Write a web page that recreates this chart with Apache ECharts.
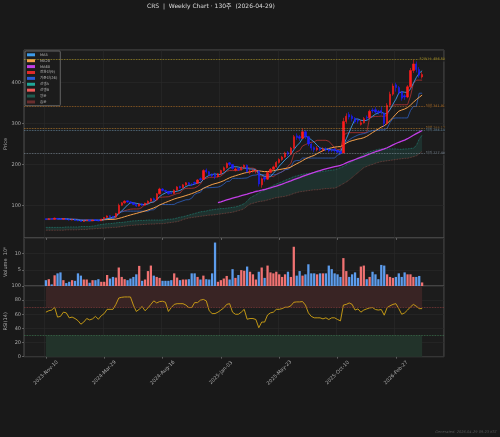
<!DOCTYPE html>
<html><head><meta charset="utf-8">
<script src="https://cdn.jsdelivr.net/npm/echarts@6/dist/echarts.min.js"></script>
<style>html,body{margin:0;padding:0;background:#191919;}#c{width:500px;height:437px;}</style>
</head><body><div id="c"></div>
<script>
// ---------- data ----------
const opens = [
67,65,67.5,66,68,67,66,67,65.5,64,
65,63.5,62.5,60.5,62.5,64,62,64.5,63.5,62,
66,70,74.5,73,71,80,100,106,111,108.5,
106,102,98,103.5,100,105,110,116,113,128,
140,136,134,131,129,137,146,143,150,155,
152,156,154,165,163,186,182,176,174,170,
177,185,192,204,200,186,190,187,193,198,
180,184,183,184,150,168,164,180,188,194,
205,212,218,229,225,240,270,268,264,280,
268,250,241,236,240,236,239,237,236,237,
234,231,228,305,322,318,313,308,298,302,
316,314,333,334,330,332,326,300,345,372,
395,388,377,368,365,390,430,446,432,414];
const closes = [
65,67,66,68.5,66.5,66,67.5,65,64,65,
63,62,60.5,62.5,64,62,64,63,62,66,
70,74,72.5,71,80,100,106,110,108,106,
102,98,103,100,105,110,116,113,128,140,
136,134,128,129,137,145,143,150,155,151,
150,154,162,163,185,182,175,172,170,177,
185,192,202,200,190,189,187,193,198,182,
184,186,185,152,165,164,180,188,194,205,
212,218,228,225,240,268,266,264,280,268,
250,240,236,240,236,238,236,233,235,234,
230,227,305,318,316,312,304,306,302,312,
314,330,331,328,327,328,300,345,372,392,
388,376,362,365,390,430,446,432,418,420];
const lows = [
64,64,65,65,65,64.5,65,64,62.5,63,
62,61,59.5,59.5,61.5,61,61.5,62,61,61.5,
65.5,69,71,70,70.5,78,98,104,106,104,
100.5,96,97,98,99,104,109,111,112,127,
134,131,126,127,128,136,141,142,148,149,
147,150,153,160,162,178,172,169,164,168,
175,183,190,196,187,183,184,185,191,180,
176,180,178,146,143,158,162,178,186,192,
202,209,216,220,223,238,260,258,262,262,
245,234,230,232,232,231,232,229,230,229,
228,227.5,227.5,300,310,305,300,300,295,300,
308,312,326,324,322,322,292,298,340,368,
378,370,356,358,362,386,424,425,412,410];
const highs = [
68,69,69,70,69,68,69,68,66,66.5,
65.5,64,63,63.5,65,64.5,65,65.5,64,67,
71,75.5,75.5,74,81.5,104,108,112,112,110,
107,103,104.5,105,106.5,112,118,119,130,143,
142,138,135,133,139,147,148,152,157,157,
154,158,164,168,188,190,184,178,180,179,
187,195,205,206,201,193,192,195,200,200,
188,189,188,186,168,170,183,191,197,208,
215,221,231,233,243,272,276,272,288.17,284,
270,252,244,245,242,242,242,239,239,240,
236,233,314,325,328,322,316,312,308,316,
320,334,338,340,333,341.91,328,350,378,398,
400,392,380,372,394,436,456.5,452,438,426];
const volumes = [
1.8,2.1,0.5,3.3,3.9,4.2,1.8,0.9,1.3,1.8,
1.6,3.9,3.2,2.0,2.0,1.0,1.8,1.8,2.1,1.3,
1.3,3.4,2.3,2.8,2.6,5.7,2.8,2.1,1.8,2.3,
2.8,3.6,6.2,1.6,2.0,4.6,6.3,3.2,2.8,2.5,
1.6,1.6,1.6,1.8,3.9,2.6,1.8,2.0,2.0,2.1,
3.9,3.9,2.8,2.0,3.2,2.1,2.0,3.9,13.4,1.3,
1.8,2.3,3.1,2.0,5.2,2.5,3.4,4.9,4.7,6.0,
4.4,3.6,2.0,4.4,5.7,2.5,6.3,4.2,3.9,4.4,
3.6,2.8,3.6,4.4,2.8,12.1,3.2,4.6,3.2,3.6,
6.7,3.9,3.9,3.6,3.9,3.9,3.9,6.3,5.2,3.9,
3.6,2.8,8.6,4.6,2.8,3.6,4.2,2.5,6.0,6.3,
2.1,2.8,4.4,3.6,2.1,6.5,6.3,3.6,2.8,2.5,
2.8,3.9,2.8,4.2,3.6,3.6,2.8,2.8,3.1,1.1];
const rsi = [
63,65,66,70,56,57,63,62,55,56,
54,51,46,49,54,52,53.5,57,53,58,
61,67,67,67,74,83,84,84.5,84.5,84.5,
73,64,67,71,65,69,74,79,76,78,
78.4,77,64,69.5,74,75,75,75,73,69.5,
69.5,76.5,76.5,80,81,79,65,61,61,63,
66,69,74,75,63,60,60,63,67,53,
54,54,52.6,41,49,49,59,62,63,67,
67,68,70,70,72,77,77.5,77.5,78,73,
62,57,55,55,55,53.5,55,52.6,55,55,
52.6,50.7,73,74,76,74,66,67.6,63,66,
67.6,69,69.5,66.7,66,66.7,58.7,69.5,72,74,
75,68,60,62,66,70.4,74,71.4,68,68];
const spanA = [
46,46,46,46,46,46,46,47,47,47,
47,47,48,48,48,48,49,50,52,53,
54,55,55,56,57,58,58,59,60,61,
62,62,63,63,63,64,64,64,64,64,
64,65,66,66,67,69,71,72,74,76,
78,80,82,84,85,86,88,89,90,91,
92,92,93,94,95,96,98,101,104,110,
118,122,126,130,134,137,141,145,149,152,
155,158,161,164,167,170,172,174,176,177,
178,179,180,181,182,183,184,185,186,187,
189,192,195,199,203,207,212,216,220,224,
228,231,233,235,237,238,238,238,238,238,
238,237,237,238,238,239,240,246,262,272];
const spanB = [
39,39,39,39,39,39,39,40,40,40,
40,40,41,41,41,42,42,43,43,44,
44,45,45,46,46,47,48,49,50,51,
51,52,52,53,53,54,54,54,55,55,
55,56,57,58,59,60,62,65,67,69,
70,71,72,73,74,75,76,76,77,78,
79,80,81,82,83,85,87,89,92,98,
103,105,107,109,110,111,113,115,117,119,
120,121,122,124,126,129,131,133,134,135,
136,137,138,138,139,140,141,141,142,142,
145,149,153,157,162,168,174,180,186,192,
195,198,200,203,205,207,208,209,210,211,
212,213,214,215,215,217,219,221,226,232];
const levels = [456.5, 341.91, 288.17, 284.14, 227.48];
const levelLabels = ['52W H: 456.50', '저항 341.91', '저항 288.17', '지지 284.14', '지지 227.48'];
const firstWeek = '2023-11-10';
const labelEvery = 20;
const titleText = 'CRS  |  Weekly Chart · 130주  (2026-04-29)';
const footerText = 'Generated: 2026-04-29 09:23 KST';

// ---------- derived ----------
const PAD = 7, N = closes.length;
const MON = ['Jan','Feb','Mar','Apr','May','Jun','Jul','Aug','Sep','Oct','Nov','Dec'];
const t0 = Date.parse(firstWeek + 'T00:00:00Z');
const cats = [];
for (let k = -PAD; k < N + PAD; k++) {
  const d = new Date(t0 + k * 7 * 86400000);
  cats.push(d.getUTCFullYear() + '-' + MON[d.getUTCMonth()] + '-' + String(d.getUTCDate()).padStart(2, '0'));
}
const X = i => i + PAD;
const pairs = arr => arr.map((v, i) => [X(i), v == null ? '-' : v]);
function sma(n) { return closes.map((_, i) => i < n - 1 ? null : closes.slice(i - n + 1, i + 1).reduce((a, b) => a + b, 0) / n); }
function mid(n) { return closes.map((_, i) => { const s = Math.max(0, i - n + 1); return (Math.max(...highs.slice(s, i + 1)) + Math.min(...lows.slice(s, i + 1))) / 2; }); }
const ma5 = sma(5), ma20 = sma(20), ma60 = sma(60), tenkan = mid(9), kijun = mid(26);
const showIdx = (idx) => { const i = idx - PAD; return i >= 0 && i < N && i % labelEvery === 0; };

const FONT = "'DejaVu Sans','Noto Sans CJK KR',sans-serif";
const C = {
  up: '#ff1c1c', down: '#1c1cff',
  ma5: '#3d9be9', ma20: '#f5a04a', ma60: '#c23ee6',
  tenkan: '#b83232', kijun: '#2f5fc0', spanA: '#24a090', spanB: '#a0504a',
  cloudUp: '#1f5a4e', cloudDn: '#6a2e2e',
  lv: ['#c9b02e', '#c47a28', '#cc8a30', '#7097b2', '#8a98a6']
};

const axisLbl = { color: '#aaa', fontSize: 5, fontFamily: FONT, margin: 3 };
const split = { show: true, lineStyle: { color: '#2a2a2a', width: 0.6 } };
const nameStyle = { color: '#aaa', fontSize: 5, fontFamily: FONT };
function xAx(g, labels) {
  return {
    type: 'category', gridIndex: g, data: cats, boundaryGap: true,
    axisLine: { show: false },
    axisTick: { show: true, interval: showIdx, alignWithLabel: true, length: 2, lineStyle: { color: '#888', width: 0.6 } },
    axisLabel: labels ? { show: true, interval: showIdx, rotate: 45, align: 'center', verticalAlign: 'middle',
      color: '#aaa', fontSize: 5, fontFamily: FONT, margin: 16 } : { show: false },
    splitLine: { show: true, interval: showIdx, lineStyle: { color: '#2a2a2a', width: 0.6 } }
  };
}
const gridBase = { left: 24, width: 420, show: true, backgroundColor: '#1c1c1c', borderColor: '#505050', borderWidth: 1,
  containLabel: false, outerBoundsMode: 'none' };
const yTick = { show: true, length: 2, lineStyle: { color: '#888', width: 0.6 } };

const lineS = (name, data, color, width, extra) => Object.assign({
  name, type: 'line', xAxisIndex: 0, yAxisIndex: 0, data: pairs(data), color,
  symbol: 'none', showSymbol: false, connectNulls: false, silent: true,
  lineStyle: { color, width }, z: 3
}, extra || {});

const option = {
  backgroundColor: '#191919',
  animation: false,
  title: [
    { text: titleText, left: 147, top: 3, padding: 0, textStyle: { color: '#ddd', fontSize: 6, fontWeight: 'normal', fontFamily: FONT } },
    { text: footerText, right: 3, bottom: 3, padding: 0, textStyle: { color: '#555', fontSize: 3.6, fontWeight: 'normal', fontStyle: 'italic', fontFamily: FONT } }
  ],
  legend: {
    left: 25, top: 51, orient: 'vertical', icon: 'rect', itemWidth: 8, itemHeight: 3, itemGap: 2.3,
    padding: [2, 3, 2, 2], backgroundColor: '#1c1c1c', borderColor: '#777', borderWidth: 0.8, borderRadius: 1,
    textStyle: { color: '#bbb', fontSize: 3.6, fontFamily: FONT },
    data: [
      { name: 'MA5', itemStyle: { color: C.ma5 } },
      { name: 'MA20', itemStyle: { color: C.ma20 } },
      { name: 'MA60', itemStyle: { color: C.ma60 } },
      { name: '전환선(9)', itemStyle: { color: '#e02a2a' } },
      { name: '기준선(26)', itemStyle: { color: '#2a5ad8' } },
      { name: '선행A', itemStyle: { color: '#20a898' } },
      { name: '선행B', itemStyle: { color: '#f05a5a' } },
      { name: '양운', itemStyle: { color: C.cloudUp } },
      { name: '음운', itemStyle: { color: C.cloudDn } }
    ]
  },
  grid: [
    Object.assign({ top: 50, height: 188 }, gridBase),
    Object.assign({ top: 238, height: 48 }, gridBase),
    Object.assign({ top: 286, height: 70.7 }, gridBase)
  ],
  xAxis: [xAx(0, false), xAx(1, false), xAx(2, true)],
  yAxis: [
    { type: 'value', gridIndex: 0, min: 20, max: 480, splitNumber: 5, name: 'Price', nameLocation: 'middle', nameGap: 16,
      nameMoveOverlap: false, nameTextStyle: nameStyle,
      axisLabel: Object.assign({ showMinLabel: false, showMaxLabel: false }, axisLbl),
      axisTick: yTick, axisLine: { show: false }, splitLine: split },
    { type: 'value', gridIndex: 1, min: 0, max: 14.8, interval: 5, name: 'Volume  10⁶', nameLocation: 'middle', nameGap: 16,
      nameMoveOverlap: false, nameTextStyle: nameStyle,
      axisLabel: Object.assign({ showMinLabel: false, showMaxLabel: false }, axisLbl),
      axisTick: yTick, axisLine: { show: false }, splitLine: split },
    { type: 'value', gridIndex: 2, min: 0, max: 100, interval: 20, name: 'RSI(14)', nameLocation: 'middle', nameGap: 16,
      nameMoveOverlap: false, nameTextStyle: nameStyle,
      axisLabel: axisLbl,
      axisTick: yTick, axisLine: { show: false }, splitLine: split }
  ],
  series: [
    { name: 'cloudBase', type: 'line', stack: 'cloud', data: pairs(spanB), symbol: 'none', silent: true,
      lineStyle: { opacity: 0 }, z: 1 },
    { name: '양운', type: 'line', stack: 'cloud', data: pairs(spanA.map((a, i) => a - spanB[i])), symbol: 'none', silent: true,
      color: C.cloudUp, lineStyle: { opacity: 0 }, areaStyle: { color: 'rgba(36,96,84,0.45)' }, z: 1 },
    lineS('선행A', spanA, C.spanA, 0.8, { lineStyle: { color: C.spanA, width: 0.8, type: 'dotted', opacity: 0.8 }, z: 2 }),
    lineS('선행B', spanB, C.spanB, 0.8, { lineStyle: { color: C.spanB, width: 0.8, type: 'dotted', opacity: 0.8 }, z: 2 }),
    lineS('음운', [], C.cloudDn, 1),
    {
      name: 'price', type: 'candlestick', xAxisIndex: 0, yAxisIndex: 0, z: 4,
      data: closes.map((c, i) => [X(i), opens[i], c, lows[i], highs[i]]),
      encode: { x: 0, y: [1, 2, 3, 4] },
      barWidth: '62%',
      itemStyle: { color: C.up, color0: C.down, borderColor: C.up, borderColor0: C.down, borderWidth: 0.6 },
      markLine: {
        silent: true, symbol: 'none',
        data: levels.map((v, k) => ({
          yAxis: v,
          lineStyle: { color: C.lv[k], type: 'dotted', width: 0.8, opacity: 0.85 },
          label: { show: true, formatter: levelLabels[k], position: 'insideEndTop', distance: -2,
            color: C.lv[k], fontSize: 3.4, fontFamily: FONT, backgroundColor: 'rgba(28,28,28,0.85)', padding: [0.5, 1] }
        }))
      }
    },
    lineS('전환선(9)', tenkan, C.tenkan, 0.8),
    lineS('기준선(26)', kijun, C.kijun, 0.8),
    lineS('MA60', ma60, C.ma60, 1.3),
    lineS('MA20', ma20, C.ma20, 1),
    lineS('MA5', ma5, C.ma5, 0.9),
    {
      name: 'volume', type: 'bar', xAxisIndex: 1, yAxisIndex: 1, barWidth: '78%', silent: true,
      data: volumes.map((v, i) => ({ value: [X(i), v], itemStyle: { color: closes[i] >= opens[i] ? '#f07272' : '#5c9cec' } }))
    },
    {
      name: 'RSI', type: 'line', xAxisIndex: 2, yAxisIndex: 2, data: pairs(rsi), symbol: 'none', silent: true,
      lineStyle: { color: '#d4a514', width: 0.9 }, z: 3,
      markArea: {
        silent: true,
        data: [
          [{ xAxis: cats[X(0)], yAxis: 70, itemStyle: { color: '#392424' } }, { xAxis: cats[X(N - 1)], yAxis: 100 }],
          [{ xAxis: cats[X(0)], yAxis: 0, itemStyle: { color: '#22332a' } }, { xAxis: cats[X(N - 1)], yAxis: 30 }]
        ]
      },
      markLine: {
        silent: true, symbol: 'none', label: { show: false },
        data: [
          { yAxis: 70, lineStyle: { color: '#8a3c3c', type: 'dotted', width: 0.8 } },
          { yAxis: 30, lineStyle: { color: '#3f7a52', type: 'dotted', width: 0.8 } }
        ]
      }
    }
  ]
};
const chart = echarts.init(document.getElementById('c'), null, { renderer: 'canvas', width: 500, height: 437 });
chart.setOption(option);
</script></body></html>
